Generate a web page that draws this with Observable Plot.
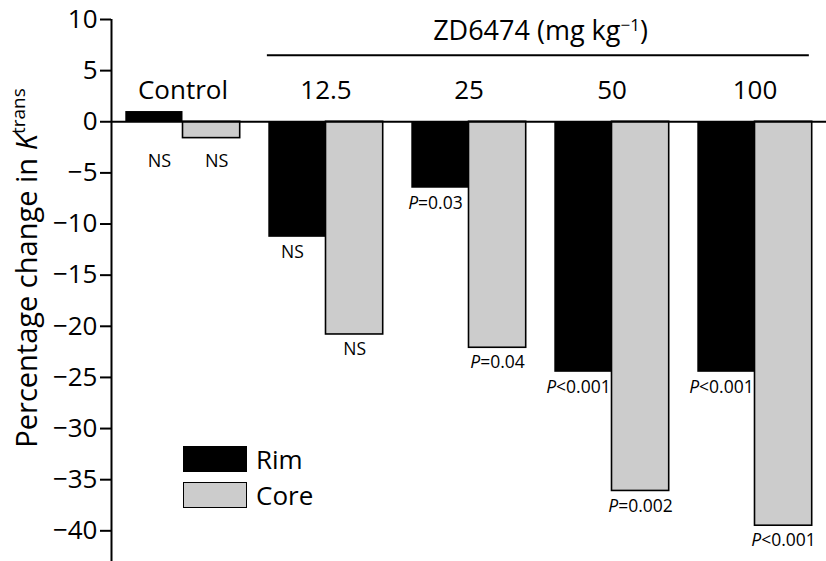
<!DOCTYPE html>
<html>
<head>
<meta charset="utf-8">
<script src="https://cdn.jsdelivr.net/npm/d3@7"></script>
<script src="https://cdn.jsdelivr.net/npm/@observablehq/plot@0.6"></script>
<style>
  html, body { margin: 0; padding: 0; background: #fff; }
  #chart { position: relative; width: 826px; height: 561px; font-family: "Open Sans", sans-serif; color: #000; }
  .legend { position: absolute; left: 183px; top: 445px; }
  .legend .row { display: flex; align-items: center; height: 27px; margin-bottom: 9px; }
  .legend .sw { width: 64px; height: 26px; box-sizing: border-box; margin-right: 9px; }
  .legend .lab { font-size: 26px; line-height: 1; }
</style>
</head>
<body>
<div id="chart"></div>
<script>
// ---- data ----
const groups = ["Control", "12.5", "25", "50", "100"];
const seriesNames = ["Rim", "Core"];
const rimValues = [1.0, -11.3, -6.5, -24.5, -24.5];
const coreValues = [-1.6, -20.8, -22.1, -36.1, -39.5];
const rimLabels = ["NS", "NS", "P=0.03", "P<0.001", "P<0.001"];
const coreLabels = ["NS", "NS", "P=0.04", "P=0.002", "P<0.001"];
const yTicks = [10, 5, 0, -5, -10, -15, -20, -25, -30, -35, -40];
const doseGroups = ["12.5", "25", "50", "100"];
const doseTitle = ["ZD6474 (mg kg", "−1", ")"];
const yTitle = ["Percentage change in ", "K", "trans"];
const seriesColors = ["#000000", "#cccccc"];

// ---- layout constants ----
const W = 0.4;               // bar width in group units
const xDomain = [-0.5, groups.length - 0.5];
const yDomain = [-43, 10];
const headerY = 6.5;

const rows = [];
groups.forEach((g, i) => {
  rows.push({group: g, gi: i, series: "Rim", value: rimValues[i], label: rimLabels[i]});
  rows.push({group: g, gi: i, series: "Core", value: coreValues[i], label: coreLabels[i]});
});
const rim = rows.filter(d => d.series === "Rim");
const core = rows.filter(d => d.series === "Core");
const x1 = d => d.series === "Rim" ? d.gi - W : d.gi;
const x2 = d => d.series === "Rim" ? d.gi : d.gi + W;
const xc = d => (x1(d) + x2(d)) / 2;
const doseIdx = doseGroups.map(g => groups.indexOf(g));
const isControl = d => d.group === "Control";

const plot = Plot.plot({
  width: 826,
  height: 561,
  marginLeft: 111,
  marginRight: 0,
  marginTop: 19,
  marginBottom: 0,
  style: {fontFamily: "'Open Sans', sans-serif", background: "#fff", color: "#000", overflow: "visible"},
  x: {domain: xDomain, axis: null},
  y: {domain: yDomain, axis: null},
  marks: [
    Plot.rectY(rim, {x1, x2, y1: 0, y2: "value", fill: seriesColors[0]}),
    Plot.rectY(core, {x1, x2, y1: 0, y2: "value", fill: seriesColors[1], stroke: "#000", strokeWidth: 1.6}),
    Plot.ruleY([0], {stroke: "#000", strokeWidth: 1.8}),
    Plot.ruleX([xDomain[0]], {stroke: "#000", strokeWidth: 2}),
    Plot.axisY(yTicks, {tickSize: 11, tickPadding: 3, fontSize: 26, strokeWidth: 2, label: null,
      tickFormat: d3.format("d")}),
    // group labels
    Plot.text(groups, {x: (d, i) => i, y: 0, dy: -31, text: d => d, fontSize: 26, lineAnchor: "middle"}),
    // header
    Plot.ruleY([headerY], {x1: d3.min(doseIdx) - W - 0.01, x2: d3.max(doseIdx) + W - 0.02, stroke: "#000", strokeWidth: 2}),
    Plot.text([doseTitle.join("")], {x: d3.mean(doseIdx), y: headerY, dy: -24, text: d => d, fontSize: 27,
      lineAnchor: "middle", className: "dose-title"}),
    // significance labels
    Plot.text(rows.filter(isControl), {x: xc, y: 0, dy: 39, dx: 5, text: "label", fontSize: 18,
      lineAnchor: "middle", className: "plabels"}),
    Plot.text(rim.filter(d => !isControl(d)), {x: xc, y: "value", dy: 15, dx: -5, text: "label", fontSize: 17.5,
      lineAnchor: "middle", className: "plabels"}),
    Plot.text(core.filter(d => !isControl(d)), {x: xc, y: "value", dy: 15, text: "label", fontSize: 17.5,
      lineAnchor: "middle", className: "plabels"})
  ]
});

const svg = d3.select(plot);
// italic P in p-values
svg.selectAll("g.plabels text").each(function () {
  const t = this.textContent;
  if (t.startsWith("P")) {
    const s = d3.select(this);
    s.text("");
    s.append("tspan").attr("font-style", "italic").text("P");
    s.append("tspan").text(t.slice(1));
  }
});
// superscript in header
svg.selectAll("g.dose-title text").each(function () {
  const s = d3.select(this);
  s.text("");
  s.append("tspan").text(doseTitle[0]);
  s.append("tspan").attr("font-size", 17).attr("dy", -9).text(doseTitle[1]);
  s.append("tspan").attr("dy", 9).text(doseTitle[2]);
});
// y-axis title
const yt = svg.append("text")
  .attr("transform", "translate(37,268) rotate(-90)")
  .attr("text-anchor", "middle")
  .attr("font-size", 29)
  .attr("fill", "#000");
yt.append("tspan").text(yTitle[0]);
yt.append("tspan").attr("font-style", "italic").text(yTitle[1]);
yt.append("tspan").attr("font-size", 19).attr("dy", -12).text(yTitle[2]);

const chart = document.getElementById("chart");
chart.appendChild(plot);

// legend
const legend = document.createElement("div");
legend.className = "legend";
seriesNames.forEach((name, i) => {
  const row = document.createElement("div");
  row.className = "row";
  const sw = document.createElement("div");
  sw.className = "sw";
  sw.style.background = seriesColors[i];
  if (i === 1) sw.style.border = "1.6px solid #000";
  const lab = document.createElement("span");
  lab.className = "lab";
  lab.textContent = name;
  row.appendChild(sw);
  row.appendChild(lab);
  legend.appendChild(row);
});
chart.appendChild(legend);
</script>
</body>
</html>
